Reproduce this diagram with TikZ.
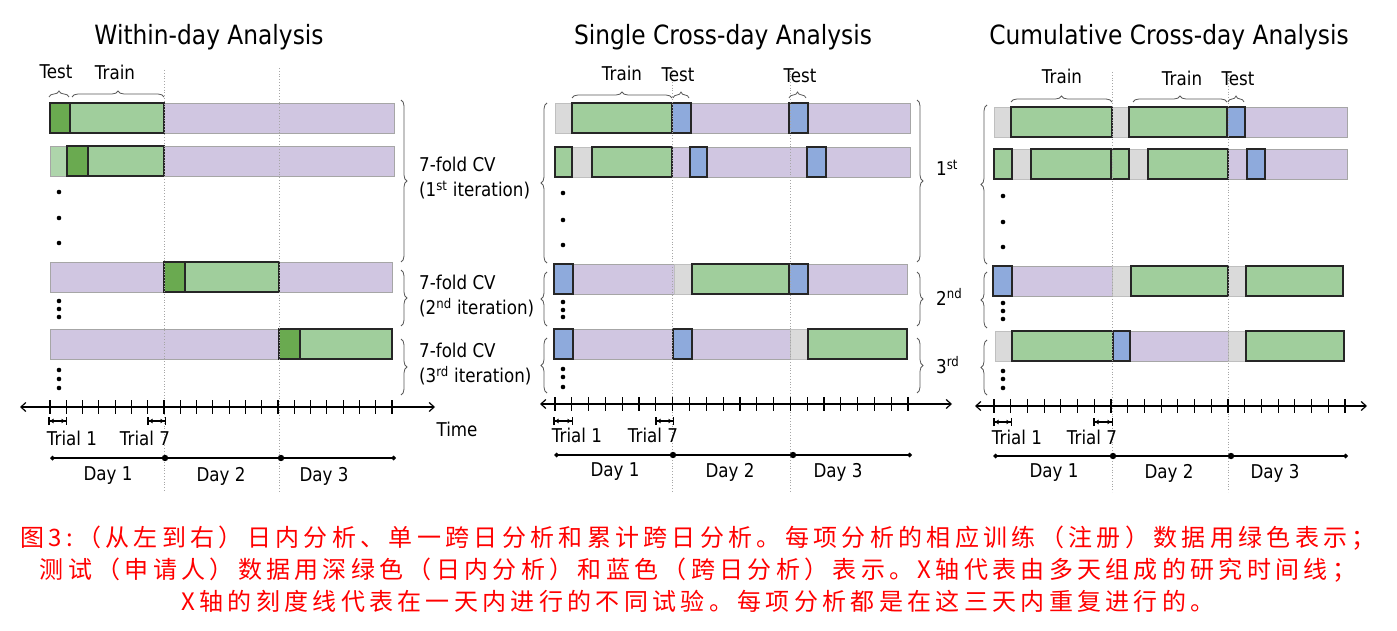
\documentclass[tikz,border=0pt]{standalone}
\usepackage{fontspec}
\setmainfont[FakeStretch=0.88]{DejaVu Sans}
\newfontfamily\cjk[LetterSpace=18]{Noto Sans CJK SC}
\usetikzlibrary{arrows.meta,decorations.pathreplacing}

\definecolor{lgreen}{HTML}{A0CE9C}
\definecolor{dgreen}{HTML}{6AAA50}
\definecolor{lpurple}{HTML}{D0C6E1}
\definecolor{lblue}{HTML}{8EAADC}
\definecolor{lgray}{HTML}{DADADA}

\newcommand{\segm}[4]{\draw[#4] (#1,#3) rectangle (#2,#3+30);}

\begin{document}
\begin{tikzpicture}[x=1pt,y=-1pt,
base/.style = {fill=lpurple,draw=black!35,line width=0.9pt},
tr/.style = {fill=lgreen,draw=black!85,line width=1.3pt},
trl/.style = {fill=lgreen!85,draw=black!35,line width=0.9pt},
te/.style = {fill=dgreen,draw=black!85,line width=1.3pt},
bl/.style = {fill=lblue,draw=black!85,line width=1.3pt},
gp/.style = {fill=lgray,draw=black!25,line width=0.9pt},
ttl/.style = {font=\fontsize{26.5}{30}\selectfont},
lbl/.style = {font=\fontsize{19}{22}\selectfont, inner sep=0pt},
brc/.style = {decorate,decoration={brace,amplitude=6pt},draw=black!65,line width=0.8pt},
dayline/.style = {dotted,draw=black!35,line width=0.8pt},
axis/.style = {{Straight Barb[length=5pt,width=9pt]}-{Straight Barb[length=5pt,width=9pt]},line width=1.2pt},
trial/.style = {{Bar[width=8pt]Latex[length=4pt,width=5pt]}-{Latex[length=4pt,width=5pt]Bar[width=8pt]},line width=1.5pt},
days/.style = {{Diamond[length=5pt,width=5pt]}-{Diamond[length=5pt,width=5pt]},line width=1.2pt}]
\useasboundingbox (0,0) rectangle (1397,631);

% titles
\node[ttl] (ttlA) at (209,37) {Within-day Analysis};
\node[ttl] (ttlB) at (723,37) {Single Cross-day Analysis};
\node[ttl] (ttlC) at (1169,37) {Cumulative Cross-day Analysis};

% within-day
\segm{50}{394}{103}{base} \segm{70}{164}{103}{tr} \segm{50}{70}{103}{te}
\segm{50}{394}{146}{base} \segm{50}{67}{146}{trl} \segm{88}{164}{146}{tr} \segm{67}{88}{146}{te}
\segm{50}{392}{262}{base} \segm{185}{279}{262}{tr} \segm{164}{185}{262}{te}
\segm{50}{392}{329}{base} \segm{300}{392}{329}{tr} \segm{279}{300}{329}{te}

% single cross-day
\segm{555}{910}{103}{base} \segm{555}{572}{103}{gp} \segm{572}{672}{103}{tr}
\segm{672}{691}{103}{bl} \segm{789}{808}{103}{bl}
\segm{555}{910}{147}{base} \segm{572}{592}{147}{gp} \segm{555}{572}{147}{tr}
\segm{592}{672}{147}{tr} \segm{690}{707}{147}{bl} \segm{807}{826}{147}{bl}
\segm{554}{907}{264}{base} \segm{554}{573}{264}{bl} \segm{674}{692}{264}{gp}
\segm{692}{789}{264}{tr} \segm{789}{808}{264}{bl}
\segm{554}{907}{329}{base} \segm{554}{573}{329}{bl} \segm{673}{692}{329}{bl}
\segm{790}{808}{329}{gp} \segm{808}{907}{329}{tr}

% cumulative cross-day
\segm{994}{1347}{107}{base} \segm{994}{1011}{107}{gp} \segm{1112}{1129}{107}{gp}
\segm{1011}{1112}{107}{tr} \segm{1129}{1227}{107}{tr} \segm{1227}{1245}{107}{bl}
\segm{994}{1347}{149}{base} \segm{1012}{1031}{149}{gp} \segm{1129}{1148}{149}{gp}
\segm{994}{1012}{149}{tr} \segm{1031}{1111}{149}{tr} \segm{1111}{1129}{149}{tr}
\segm{1148}{1228}{149}{tr} \segm{1247}{1265}{149}{bl}
\segm{993}{1343}{266}{base} \segm{993}{1012}{266}{bl} \segm{1112}{1131}{266}{gp}
\segm{1228}{1246}{266}{gp} \segm{1131}{1228}{266}{tr} \segm{1246}{1343}{266}{tr}
\segm{995}{1344}{331}{base} \segm{995}{1012}{331}{gp} \segm{1228}{1246}{331}{gp}
\segm{1012}{1113}{331}{tr} \segm{1246}{1344}{331}{tr} \segm{1113}{1130}{331}{bl}

% day borders
\foreach \x/\t in {164/70,279/68,672/68,790/68,1112/72,1228/72}
  \draw[dayline] (\x,\t) -- (\x,492);

% dots
\foreach \x/\a/\b/\c/\d/\e/\f/\g/\h/\k in {59/192/218/243/301/309/317/370/379/388,
    563/193/220/245/302/310/317/369/377/387,1003/196/222/247/303/311/319/371/379/388}
  \foreach \y in {\a,\b,\c,\d,\e,\f,\g,\h,\k}
    \fill (\x,\y) circle (2.3pt);

% top braces
\draw[brc] (49,97) -- (69,97);
\draw[brc] (72,97) -- (164,97);
\node[lbl] (teA) at (56,72) {Test};
\node[lbl] (trA) at (115,72) {Train};
\draw[brc] (572,98) -- (672,98);
\draw[brc] (673,98) -- (689,98);
\draw[brc] (789,98) -- (806,98);
\node[lbl] (trB) at (622,73) {Train};
\node[lbl] (teB) at (678,75) {Test};
\node[lbl] (teB2) at (800,76) {Test};
\draw[brc] (1011,102) -- (1112,102);
\draw[brc] (1133,102) -- (1227,102);
\draw[brc] (1228,102) -- (1244,102);
\node[lbl] (trC) at (1062,76) {Train};
\node[lbl] (trC2) at (1182,78) {Train};
\node[lbl] (teC) at (1238,79) {Test};

% side braces
\draw[brc] (401,100) -- (401,262);
\draw[brc] (401,270) -- (401,326);
\draw[brc] (401,339) -- (401,395);
\node[lbl,anchor=west,align=left] (cvA) at (419,178) {7-fold CV\\[3pt](1\textsuperscript{st} iteration)};
\node[lbl,anchor=west,align=left] (cvB) at (419,296) {7-fold CV\\[3pt](2\textsuperscript{nd} iteration)};
\node[lbl,anchor=west,align=left] (cvC) at (419,364) {7-fold CV\\[3pt](3\textsuperscript{rd} iteration)};
\draw[brc] (547,263) -- (547,103);
\draw[brc] (547,326) -- (547,272);
\draw[brc] (547,393) -- (547,338);
\draw[brc] (917,100) -- (917,262);
\draw[brc] (917,272) -- (917,326);
\draw[brc] (917,338) -- (917,393);
\node[lbl,anchor=west] (itA) at (936,168) {1\textsuperscript{st}};
\node[lbl,anchor=west] (itB) at (936,297) {2\textsuperscript{nd}};
\node[lbl,anchor=west] (itC) at (936,365) {3\textsuperscript{rd}};
\draw[brc] (987,264) -- (987,105);
\draw[brc] (987,328) -- (987,272);
\draw[brc] (987,395) -- (987,340);

% time axes
\coordinate (axA1) at (20,407);  \coordinate (axA2) at (435,407);
\coordinate (axB1) at (540,404); \coordinate (axB2) at (952,404);
\coordinate (axC1) at (975,406); \coordinate (axC2) at (1367,406);
\draw[axis] (axA1) -- (axA2);
\draw[axis] (axB1) -- (axB2);
\draw[axis] (axC1) -- (axC2);
\foreach \s/\w/\y in {50/342/407,555/353/404,994/351/406}
  \foreach \i in {0,...,21}
    \draw[line width=1.2pt] ({\s+\i*\w/21},\y-7) -- ({\s+\i*\w/21},\y+7);
\node[lbl] (time) at (457,429) {Time};

% trials
\draw[trial] (48,421) -- (67,421);
\draw[trial] (147,421) -- (166,421);
\node[lbl] (tA1) at (72,438) {Trial 1};
\node[lbl] (tA7) at (145,438) {Trial 7};
\draw[trial] (553,421) -- (573,421);
\draw[trial] (655,421) -- (674,421);
\node[lbl] (tB1) at (577,435) {Trial 1};
\node[lbl] (tB7) at (653,435) {Trial 7};
\draw[trial] (993,422) -- (1012,422);
\draw[trial] (1093,422) -- (1113,422);
\node[lbl] (tC1) at (1017,437) {Trial 1};
\node[lbl] (tC7) at (1092,437) {Trial 7};

% days
\draw[days] (50,458) -- (396,458);
\fill (165,458) circle (3.2pt) (281,458) circle (3.2pt);
\node[lbl] (dA1) at (108,476) {Day 1};
\node[lbl] (dA2) at (221,476) {Day 2};
\node[lbl] (dA3) at (324,476) {Day 3};
\draw[days] (554,455) -- (912,455);
\fill (673,455) circle (3.2pt) (793,455) circle (3.2pt);
\node[lbl] (dB1) at (615,472) {Day 1};
\node[lbl] (dB2) at (730,472) {Day 2};
\node[lbl] (dB3) at (838,472) {Day 3};
\draw[days] (993,456) -- (1348,456);
\fill (1113,456) circle (3.2pt) (1231,456) circle (3.2pt);
\node[lbl] (dC1) at (1054,473) {Day 1};
\node[lbl] (dC2) at (1169,473) {Day 2};
\node[lbl] (dC3) at (1275,473) {Day 3};

% caption
\node[text=red,align=center,inner sep=0pt,font=\cjk\fontsize{24}{32}\selectfont] (cap) at (698,569)
  {图3:（从左到右）日内分析、单一跨日分析和累计跨日分析。每项分析的相应训练（注册）数据用绿色表示；\\
   测试（申请人）数据用深绿色（日内分析）和蓝色（跨日分析）表示。X轴代表由多天组成的研究时间线；\\
   X轴的刻度线代表在一天内进行的不同试验。每项分析都是在这三天内重复进行的。};
\end{tikzpicture}
\end{document}
